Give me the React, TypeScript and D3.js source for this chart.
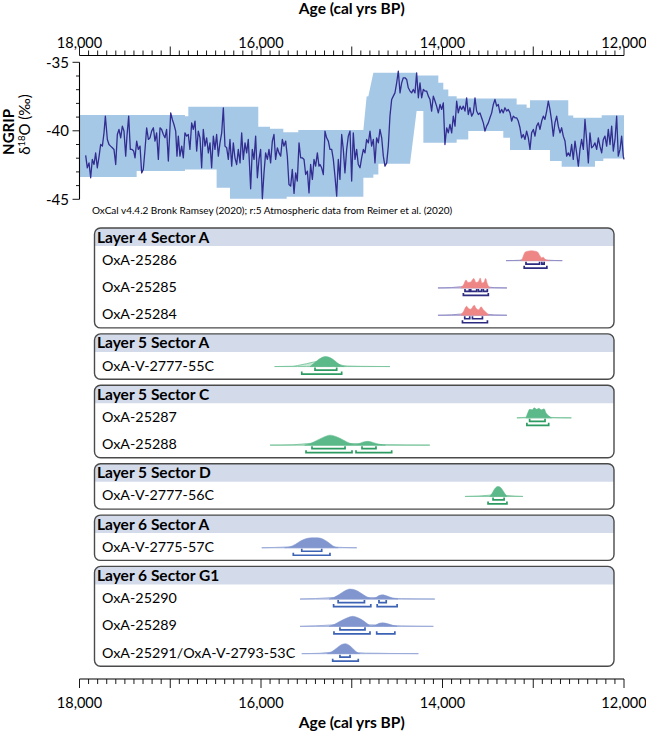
import React from 'react';
import * as d3 from 'd3';

// ---------- NGRIP data (age cal BP, d18O permil) ----------
const ngrip: [number, number][] = [
[17932,-41.8],[17914,-42.7],[17895,-42.34],[17877,-43.43],[17859,-42.09],[17840,-42.46],[17822,-41.61],[17804,-42.7],[17785,-41.9],[17767,-41.0],[17748,-41.12],[17730,-40.15],[17715,-38.93],[17693,-40.63],[17675,-41.0],[17657,-41.12],[17638,-41.24],[17620,-41.36],[17601,-42.46],[17583,-40.27],[17565,-39.9],[17546,-40.51],[17528,-39.66],[17510,-40.02],[17491,-41.85],[17477,-40.39],[17458,-38.93],[17440,-41.36],[17421,-41.36],[17403,-41.48],[17388,-41.97],[17370,-40.75],[17352,-41.36],[17333,-41.12],[17315,-43.07],[17297,-42.82],[17278,-41.36],[17260,-39.78],[17241,-40.63],[17223,-40.51],[17205,-40.02],[17186,-39.78],[17168,-40.75],[17150,-40.15],[17131,-42.09],[17113,-39.78],[17095,-39.9],[17076,-40.27],[17058,-40.51],[17040,-39.9],[17021,-42.21],[16995,-38.69],[16977,-39.17],[16959,-39.54],[16940,-40.02],[16926,-41.85],[16911,-40.39],[16893,-41.85],[16874,-41.12],[16856,-41.97],[16838,-40.15],[16819,-40.39],[16801,-40.27],[16783,-41.36],[16764,-39.42],[16746,-39.9],[16727,-39.29],[16709,-41.48],[16691,-40.02],[16672,-40.51],[16654,-42.7],[16636,-39.9],[16617,-41.12],[16599,-40.51],[16580,-41.61],[16562,-40.88],[16544,-42.7],[16525,-40.39],[16507,-41.36],[16489,-40.27],[16470,-41.85],[16452,-40.88],[16433,-40.15],[16415,-38.32],[16397,-41.12],[16378,-41.24],[16360,-42.09],[16342,-40.63],[16323,-42.58],[16305,-40.88],[16287,-41.97],[16268,-42.46],[16250,-41.36],[16231,-42.34],[16213,-40.15],[16195,-42.09],[16176,-40.88],[16158,-41.61],[16140,-40.63],[16114,-44.23],[16096,-41.36],[16077,-42.09],[16059,-40.39],[16040,-43.43],[16022,-42.09],[16004,-41.36],[15985,-44.96],[15967,-43.07],[15949,-41.61],[15930,-42.09],[15912,-41.36],[15894,-42.34],[15875,-40.75],[15857,-40.27],[15839,-42.09],[15820,-41.24],[15802,-41.61],[15783,-41.85],[15765,-40.63],[15747,-41.12],[15728,-40.75],[15710,-41.85],[15692,-43.92],[15673,-44.04],[15655,-42.82],[15636,-44.57],[15618,-43.07],[15600,-43.67],[15581,-40.88],[15563,-41.97],[15545,-41.97],[15526,-42.09],[15508,-43.19],[15489,-42.94],[15471,-44.53],[15453,-42.46],[15434,-43.55],[15416,-42.09],[15398,-42.58],[15379,-41.61],[15361,-42.58],
[15350,-42.46],[15332,-42.7],[15313,-43.19],[15295,-40.02],[15277,-40.51],[15258,-40.75],[15240,-41.36],[15221,-41.36],[15203,-42.09],[15185,-43.31],[15166,-44.77],[15148,-42.09],[15130,-43.55],[15111,-40.27],[15093,-41.36],[15075,-43.07],[15056,-41.36],[15038,-40.39],[15019,-40.02],[15001,-43.67],[14983,-40.15],[14964,-42.09],[14946,-41.36],[14928,-42.46],[14909,-42.7],[14891,-41.97],[14872,-41.36],[14854,-41.61],[14836,-40.63],[14817,-40.88],[14799,-40.02],[14781,-41.12],[14762,-40.63],[14744,-42.34],[14726,-40.51],[14707,-40.88],[14689,-39.9],[14670,-40.51],[14652,-41.85],[14634,-42.58],[14615,-42.34],[14597,-41.12],[14579,-38.93],[14560,-37.71],[14542,-37.47],[14524,-37.23],[14505,-36.5],[14487,-35.64],[14468,-37.23],[14450,-36.5],[14432,-36.13],[14413,-36.13],[14395,-36.25],[14377,-36.86],[14358,-37.1],[14340,-37.23],[14322,-36.98],[14303,-37.23],[14285,-35.77],[14266,-37.59],[14248,-36.5],[14230,-37.59],[14211,-36.98],[14193,-37.1],[14175,-37.1],[14156,-37.47],[14138,-37.71],[14120,-38.56],[14101,-37.47],[14083,-37.83],[14065,-38.2],[14046,-38.69],[14027,-38.08],[14009,-38.44],[13991,-37.96],[13973,-41.0],[13954,-39.78],[13936,-40.15],[13918,-39.54],[13899,-40.15],[13881,-38.93],[13862,-39.66],[13844,-37.83],[13826,-38.69],[13807,-38.2],[13789,-38.44],[13771,-38.2],[13752,-38.56],[13734,-37.59],[13716,-38.81],[13697,-38.32],[13679,-38.93],[13660,-38.69],[13642,-37.59],[13624,-38.56],[13605,-38.81],[13587,-38.69],[13569,-39.05],[13550,-39.42],[13532,-40.02],[13514,-39.66],[13495,-39.42],[13477,-39.05],[13458,-38.69],[13440,-38.08],[13422,-37.71],[13403,-38.2],[13385,-38.08],[13367,-38.69],[13348,-38.44],[13330,-38.69],[13312,-38.32],[13293,-38.56],[13275,-38.44],[13256,-38.69],[13238,-39.29],[13220,-38.93],[13201,-39.05],[13183,-39.05],[13165,-39.29],[13146,-39.78],[13128,-40.51],[13110,-40.27],[13091,-40.63],[13073,-40.02],[13054,-40.51],[13036,-41.36],[13018,-40.15],[12999,-39.9],[12981,-40.39],[12963,-39.66],[12944,-39.42],[12926,-39.9],[12907,-39.29],[12889,-38.93],[12871,-39.17],[12852,-38.56],[12834,-37.83],[12816,-38.44],[12797,-39.29],[12779,-40.39],[12761,-39.42],[12742,-38.93],[12724,-39.66],[12705,-40.15],[12687,-39.78],[12669,-40.39],[12650,-40.75],[12632,-41.85],[12614,-41.61],[12595,-41.85],[12577,-41.0],[12559,-42.09],[12540,-40.75],[12522,-41.61],[12503,-42.58],[12485,-41.36],[12467,-40.63],[12448,-41.36],[12430,-39.17],[12412,-40.63],[12393,-42.34],[12375,-40.15],[12357,-41.24],[12338,-41.12],[12320,-40.88],[12301,-41.36],[12283,-40.51],[12265,-41.12],[12246,-41.61],[12228,-40.63],[12210,-40.39],[12191,-41.12],[12173,-39.9],[12154,-41.0],[12136,-39.66],[12118,-41.48],[12099,-40.63],[12081,-38.93],[12063,-41.85],[12044,-41.36],[12026,-40.39],[12008,-41.85],[12000,-42.09]
];

// Uncertainty envelope (upper and lower bounds, permil)
const bandUpper: [number, number][] = [
[18000,-38.85],[16838,-38.85],[16838,-38.93],[16801,-38.93],[16801,-38.25],[16030,-38.25],[16030,-39.71],[15901,-39.71],[15901,-39.85],[15754,-39.85],[15754,-40.1],[15589,-40.1],[15589,-39.95],[14872,-39.95],[14836,-37.5],[14817,-37.47],[14762,-35.77],[14285,-35.77],[14285,-35.96],[14046,-35.96],[14046,-36.5],[13991,-36.5],[13991,-36.98],[13936,-36.98],[13936,-37.47],[13844,-37.47],[13844,-37.64],[13183,-37.64],[13183,-38.08],[13073,-38.08],[13073,-38.32],[13036,-38.32],[13036,-37.77],[12614,-37.77],[12614,-38.88],[12559,-38.88],[12559,-39.05],[12246,-39.05],[12246,-38.86],[12000,-38.86]
];
const bandLower: [number, number][] = [
[18000,-43.38],[17370,-43.38],[17370,-42.94],[16838,-42.94],[16838,-42.82],[16489,-42.82],[16489,-44.16],[16342,-44.16],[16342,-44.96],[15717,-44.96],[15717,-44.82],[14872,-44.82],[14872,-43.43],[14762,-43.43],[14762,-43.19],[14707,-43.19],[14707,-42.41],[14358,-42.41],[14285,-38.56],[14211,-38.56],[14211,-40.88],[13844,-40.88],[13844,-40.63],[13716,-40.63],[13716,-40.02],[13330,-40.02],[13330,-40.51],[13256,-40.51],[13256,-41.41],[12816,-41.41],[12816,-42.21],[12687,-42.21],[12687,-42.63],[12320,-42.63],[12320,-42.21],[12228,-42.21],[12228,-42.02],[12000,-42.02]
];

// ---------- OxCal data ----------
const sections = ['Layer 4 Sector A','Layer 5 Sector A','Layer 5 Sector C','Layer 5 Sector D','Layer 6 Sector A','Layer 6 Sector G1'];
const sectionPalette = [0,1,1,1,2,2];
const dateLabels = ['OxA-25286','OxA-25285','OxA-25284','OxA-V-2777-55C','OxA-25287','OxA-25288','OxA-V-2777-56C','OxA-V-2775-57C','OxA-25290','OxA-25289','OxA-25291/OxA-V-2793-53C'];
const dateSection = [0,0,0,1,2,2,3,4,5,5,5];

const posteriors: [number, number][][] = [
[[13130,0],[13110,0.45],[13090,0.85],[13060,0.95],[13020,1],[12980,0.95],[12950,0.85],[12930,0.55],[12910,0.3],[12890,0.35],[12870,0.15],[12850,0.05],[12820,0]],
[[13800,0],[13770,0.3],[13740,0.8],[13720,0.55],[13690,0.6],[13655,0.95],[13630,0.55],[13600,0.7],[13585,1],[13565,0.5],[13545,0.55],[13525,0.95],[13505,0.4],[13480,0]],
[[13800,0],[13770,0.35],[13735,0.9],[13715,0.7],[13690,0.6],[13650,1],[13630,0.7],[13600,0.55],[13575,0.85],[13550,0.55],[13520,0.3],[13490,0]],
[[15460,0],[15420,0.3],[15380,0.6],[15330,0.9],[15290,1],[15240,0.9],[15190,0.6],[15150,0.3],[15110,0.08],[15080,0]],
[[13080,0],[13060,0.5],[13040,0.85],[13010,0.8],[12990,1],[12960,0.85],[12940,0.95],[12910,0.8],[12880,0.9],[12860,0.5],[12830,0.2],[12800,0]],
[[15520,0],[15460,0.15],[15390,0.45],[15310,0.8],[15240,1],[15170,0.85],[15090,0.5],[15020,0.18],[14970,0.07],[14930,0.12],[14880,0.3],[14820,0.38],[14760,0.25],[14690,0.08],[14630,0]],
[[13480,0],[13455,0.3],[13430,0.7],[13405,0.95],[13385,1],[13360,0.9],[13335,0.6],[13310,0.25],[13290,0]],
[[15740,0],[15680,0.1],[15620,0.35],[15560,0.7],[15500,0.92],[15440,1],[15380,1],[15320,0.88],[15260,0.55],[15210,0.2],[15170,0.04],[15150,0]],
[[15250,0],[15200,0.15],[15140,0.45],[15080,0.8],[15020,1],[14960,0.9],[14900,0.6],[14840,0.25],[14780,0.06],[14740,0.12],[14700,0.35],[14660,0.42],[14610,0.3],[14550,0.1],[14490,0]],
[[15250,0],[15190,0.2],[15120,0.55],[15050,0.85],[14990,1],[14930,0.85],[14870,0.55],[14820,0.2],[14790,0.05],[14740,0.1],[14700,0.3],[14660,0.35],[14600,0.25],[14540,0.08],[14500,0]],
[[15270,0],[15220,0.2],[15160,0.6],[15110,0.92],[15070,1],[15030,0.85],[14980,0.45],[14940,0.12],[14910,0]]
];

const likelihoods: [number, number][][] = [
[[13300,0],[13150,0.04],[13080,0.15],[13000,0.2],[12920,0.15],[12850,0.05],[12680,0]],
[[14050,0],[13900,0.04],[13800,0.12],[13650,0.18],[13520,0.12],[13430,0.03],[13290,0]],
[[14050,0],[13900,0.04],[13800,0.12],[13650,0.18],[13520,0.12],[13430,0.03],[13290,0]],
[[15850,0],[15650,0.03],[15600,0.1],[15500,0.28],[15420,0.45],[15300,0.55],[15200,0.4],[15120,0.15],[15050,0.05],[14900,0.02],[14580,0]],
[[13180,0],[13090,0.05],[12950,0.12],[12820,0.05],[12580,0]],
[[15900,0],[15650,0.04],[15450,0.18],[15250,0.28],[15050,0.18],[14850,0.12],[14650,0.05],[14140,0]],
[[13752,0],[13600,0.04],[13450,0.15],[13380,0.2],[13300,0.1],[13200,0.03],[13113,0]],
[[15992,0],[15850,0.03],[15700,0.08],[15450,0.12],[15250,0.08],[15100,0.03],[14945,0]],
[[15570,0],[15400,0.05],[15200,0.15],[15000,0.22],[14800,0.15],[14650,0.12],[14450,0.04],[14085,0]],
[[15570,0],[15400,0.05],[15200,0.15],[15000,0.22],[14800,0.15],[14650,0.12],[14450,0.04],[14101,0]],
[[15551,0],[15350,0.04],[15150,0.18],[15000,0.15],[14850,0.05],[14700,0.04],[14600,0.02],[14266,0]]
];

const ranges68: [number, number][][] = [
[[13080,12930],[12905,12880]],
[[13752,13704],[13689,13623],[13605,13568],[13550,13506]],
[[13755,13700],[13670,13560]],
[[15405,15166]],
[[13040,12870]],
[[15438,15074],[14887,14733]],
[[13443,13321]],
[[15551,15331]],
[[15150,14860],[14700,14620]],
[[15130,14854]],
[[15130,15019]]
];
const ranges95: [number, number][][] = [
[[13100,12850]],
[[13770,13495]],
[[13780,13505]],
[[15551,15111]],
[[13070,12830]],
[[15504,14997],[14953,14560]],
[[13498,13290]],
[[15644,15240]],
[[15200,14790],[14720,14500]],
[[15196,14799],[14725,14525]],
[[15210,14928]]
];

const palettes = [
  { post: '#ef8686', likeFill: '#f5baba', likeStroke: '#8e8cc6', bracket: '#2d2b80' },
  { post: '#5cb98a', likeFill: '#a3d9bb', likeStroke: '#7cc59e', bracket: '#2e9c62' },
  { post: '#8196cf', likeFill: '#b1bee3', likeStroke: '#98a9d8', bracket: '#3c62b4' },
];

const axisTicks = d3.range(18000, 11999, -100);
const yTicks = d3.range(-45, -34, 1);

const FONT = 'Lato, "Open Sans", sans-serif';

export default function App() {
  const x = d3.scaleLinear().domain([18000, 12000]).range([79.5, 624]);
  const y = d3.scaleLinear().domain([-45, -35]).range([199.3, 62.3]);
  const hs = d3.scaleLinear().domain([0, 1]).range([0, 10]);
  const fmt = d3.format(',');

  const topAxisY = 55.5;
  const botAxisY = 679;

  const bandPts: [number, number][] = [
    ...bandUpper.map(([a, v]) => [x(a), y(v)] as [number, number]),
    ...bandLower.slice().reverse().map(([a, v]) => [x(a), y(v)] as [number, number]),
  ];
  const bandPath = d3.line()(bandPts) + 'Z';
  const linePath = d3.line<[number, number]>().x(d => x(d[0])).y(d => y(d[1]))(ngrip) || '';

  // layout of sections
  const boxLeft = 94.5, boxRight = 614;
  const headerH = 18, rowH = 27.3, gap = 6, r = 6;
  let cursor = 228;
  const boxes: { top: number; bottom: number; title: string }[] = [];
  const rowCenters: number[] = [];
  sections.forEach((t, si) => {
    const top = cursor;
    let yy = top + headerH;
    dateSection.forEach((s, di) => {
      if (s === si) {
        rowCenters[di] = yy + rowH / 2;
        yy += rowH;
      }
    });
    boxes.push({ top, bottom: yy, title: t });
    cursor = yy + gap;
  });

  const areaFor = (base: number) =>
    d3.area<[number, number]>()
      .x(d => x(d[0]))
      .y0(base)
      .y1(d => base - hs(d[1]))
      .curve(d3.curveMonotoneX);

  const bracket = (a: number, b: number, yy: number) =>
    `M${x(a)},${yy - 2.5}V${yy}H${x(b)}V${yy - 2.5}`;

  return (
    <svg width={646} height={731} style={{ position: 'absolute', left: 0, top: 0, background: '#fff' }}
      fontFamily={FONT}>
      {/* Top axis */}
      <text x={351.75} y={14} textAnchor="middle" fontSize={15.5} fontWeight="bold">Age (cal yrs BP)</text>
      <line x1={x(18000)} x2={x(12000)} y1={topAxisY} y2={topAxisY} stroke="#000" strokeWidth={1.1} />
      {axisTicks.map(t => (
        <line key={'tt' + t} x1={x(t)} x2={x(t)} y1={topAxisY} y2={topAxisY - (t % 1000 === 0 ? 9 : 5)} stroke="#000" strokeWidth={0.9} />
      ))}
      {axisTicks.filter(t => t % 2000 === 0).map(t => (
        <text key={'tl' + t} x={x(t)} y={48} textAnchor="middle" fontSize={14.5}>{fmt(t)}</text>
      ))}

      {/* NGRIP panel */}
      <path d={bandPath} fill="#a6c8e7" stroke="none" />
      <path d={linePath} fill="none" stroke="#322d91" strokeWidth={1.3} strokeLinejoin="round" />
      <line x1={79.5} x2={79.5} y1={y(-35)} y2={y(-45)} stroke="#000" strokeWidth={1.1} />
      {yTicks.map(v => (
        <line key={'yt' + v} x1={79.5} x2={79.5 - (v % 5 === 0 ? 7 : 3.5)} y1={y(v)} y2={y(v)} stroke="#000" strokeWidth={0.9} />
      ))}
      {yTicks.filter(v => v % 5 === 0).map(v => (
        <text key={'yl' + v} x={69} y={y(v) + 5.5} textAnchor="end" fontSize={15}>{v}</text>
      ))}
      <text transform="translate(14,132) rotate(-90)" textAnchor="middle" fontSize={15} fontWeight="bold">NGRIP</text>
      <text transform="translate(30,124.5) rotate(-90)" textAnchor="middle" fontSize={15}>
        δ<tspan fontSize={9.5} dy={-5.5}>18</tspan><tspan dy={5.5}>O (‰)</tspan>
      </text>

      {/* OxCal */}
      <text x={92} y={214} fontSize={10}>OxCal v4.4.2 Bronk Ramsey (2020); r:5 Atmospheric data from Reimer et al. (2020)</text>
      {boxes.map((b, i) => (
        <g key={'box' + i}>
          <path d={`M${boxLeft},${b.top + headerH}V${b.top + r}A${r},${r} 0 0 1 ${boxLeft + r},${b.top}H${boxRight - r}A${r},${r} 0 0 1 ${boxRight},${b.top + r}V${b.top + headerH}Z`} fill="#d3dbeb" />
          <rect x={boxLeft} y={b.top} width={boxRight - boxLeft} height={b.bottom - b.top} rx={r} ry={r} fill="none" stroke="#4a4a4a" strokeWidth={1.4} />
          <text x={boxLeft + 2.5} y={b.top + headerH / 2 + 5.5} fontSize={15.5} fontWeight="bold">{b.title}</text>
        </g>
      ))}
      {dateLabels.map((lab, di) => {
        const c = rowCenters[di];
        const base = c + 1;
        const pal = palettes[sectionPalette[dateSection[di]]];
        return (
          <g key={'d' + di}>
            <text x={102} y={c + 5} fontSize={14.3}>{lab}</text>
            <path d={(areaFor(base)(likelihoods[di]) || '') + 'Z'} fill={pal.likeFill} fillOpacity={0.6} stroke={pal.likeStroke} strokeWidth={0.9} />
            <path d={areaFor(base)(posteriors[di]) || ''} fill={pal.post} stroke={pal.post} strokeWidth={0.5} />
            {ranges68[di].map(([a, b2], k) => (
              <path key={'a' + k} d={bracket(a, b2, base + 3.5)} fill="none" stroke={pal.bracket} strokeWidth={1.7} />
            ))}
            {ranges95[di].map(([a, b2], k) => (
              <path key={'b' + k} d={bracket(a, b2, base + 7.5)} fill="none" stroke={pal.bracket} strokeWidth={1.7} />
            ))}
          </g>
        );
      })}

      {/* Bottom axis */}
      <line x1={x(18000)} x2={x(12000)} y1={botAxisY} y2={botAxisY} stroke="#000" strokeWidth={1.1} />
      {axisTicks.map(t => (
        <line key={'bt' + t} x1={x(t)} x2={x(t)} y1={botAxisY} y2={botAxisY + (t % 1000 === 0 ? 9 : 5)} stroke="#000" strokeWidth={0.9} />
      ))}
      {axisTicks.filter(t => t % 2000 === 0).map(t => (
        <text key={'bl' + t} x={x(t)} y={708} textAnchor="middle" fontSize={14.5}>{fmt(t)}</text>
      ))}
      <text x={351.75} y={728} textAnchor="middle" fontSize={15.5} fontWeight="bold">Age (cal yrs BP)</text>
    </svg>
  );
}
